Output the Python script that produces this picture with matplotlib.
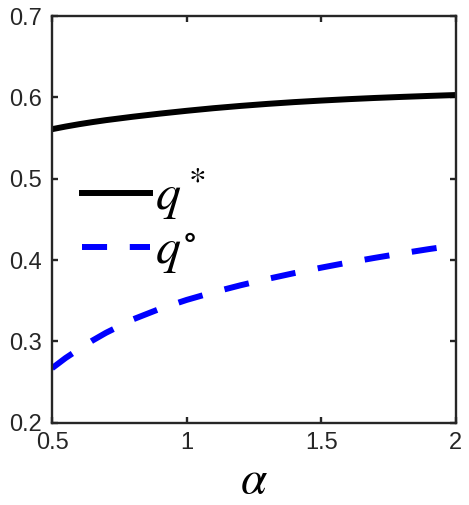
import matplotlib.pyplot as plt

plt.rcParams['mathtext.fontset'] = 'stix'
plt.rcParams['font.family'] = 'Liberation Sans'

# values
alpha = [0.5, 0.55, 0.6, 0.65, 0.7, 0.8, 0.9, 1.0, 1.1, 1.2, 1.3, 1.4, 1.5, 1.6, 1.7, 1.8, 1.9, 2.0]
q_star = [0.561, 0.5642, 0.5671, 0.5697, 0.5721, 0.5763, 0.5801, 0.5836, 0.5868, 0.5896,
          0.5921, 0.5943, 0.5962, 0.5979, 0.5994, 0.6007, 0.6019, 0.603]
q_circ = [0.267, 0.2795, 0.2905, 0.301, 0.3105, 0.327, 0.340, 0.351, 0.3605, 0.369,
          0.3768, 0.384, 0.3907, 0.397, 0.4028, 0.4083, 0.4135, 0.4183]

fig = plt.figure(figsize=(4.69, 5.05), dpi=100)
ax = fig.add_axes([0.111, 0.163, 0.861, 0.805])

ax.plot(alpha, q_star, color='black', lw=4.3, label=r'$q^*$')
ax.plot(alpha, q_circ, color='#0000ff', lw=4.3, dashes=(4.2, 3.8),
        dash_capstyle='butt', label=r'$q^{\circ}$')

ax.set_xlim(0.5, 2)
ax.set_ylim(0.2, 0.7)
ax.set_xticks([0.5, 1, 1.5, 2])
ax.set_xticklabels(['0.5', '1', '1.5', '2'])
ax.set_yticks([0.2, 0.3, 0.4, 0.5, 0.6, 0.7])

for s in ax.spines.values():
    s.set_linewidth(1.7)
    s.set_color('#262626')
ax.tick_params(direction='in', length=4, width=1.7, color='#262626',
               top=True, right=True, labelsize=17, labelcolor='#262626')
ax.tick_params(axis='x', pad=7)
ax.tick_params(axis='y', pad=7)

ax.set_xlabel(r'$\alpha$', fontsize=34, labelpad=3)

ax.legend(loc='center left', bbox_to_anchor=(0.074, 0.495), frameon=False,
          fontsize=36, handlelength=1.36, handletextpad=0.1, labelspacing=0.12,
          borderpad=0, borderaxespad=0)

fig.savefig('out.png', dpi=100)
